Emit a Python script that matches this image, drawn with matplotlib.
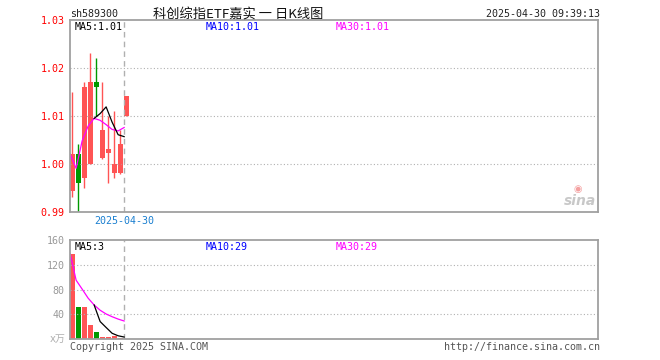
import matplotlib
matplotlib.use("Agg")
import matplotlib.pyplot as plt

# daily candles (index 0..9)
opens = [0.9943, 1.0021, 0.9971, 0.9999, 1.0171, 1.0012, 1.0022, 0.9982, 0.9982, 1.0100]
closes = [1.0021, 0.9961, 1.0161, 1.0171, 1.0161, 1.0071, 1.0031, 1.0000, 1.0042, 1.0142]
highs = [1.0151, 1.0042, 1.0171, 1.0231, 1.0220, 1.0171, 1.0101, 1.0110, 1.0071, 1.0142]
lows = [0.9932, 0.9901, 0.9951, 0.9999, 1.0099, 1.0010, 0.9960, 0.9970, 0.9979, 1.0100]

ma5_idx = [4, 5, 6, 7, 8, 9]
ma5 = [1.0095, 1.0105, 1.0119, 1.0087, 1.0061, 1.0057]
ma30 = [1.0021, 0.9991, 1.0048, 1.0079, 1.0095, 1.0091, 1.0082, 1.0072, 1.0069, 1.0076]

volumes = [138, 52, 52, 22, 11, 4, 4, 5, 2, 0.8]
vol_ma5 = [55.0, 28.2, 18.6, 9.2, 5.2, 3.2]
vol_ma30 = [138, 95, 80.7, 66, 55, 46.5, 40.4, 36, 32.2, 29.1]

price_ticks = [0.99, 1.00, 1.01, 1.02, 1.03]
vol_ticks = [40, 80, 120, 160]

code = "sh589300"
title = "科创综指ETF嘉实 一 日K线图"
stamp = "2025-04-30 09:39:13"
day_label = "2025-04-30"
top_legend = ["MA5:1.01", "MA10:1.01", "MA30:1.01"]
bot_legend = ["MA5:3", "MA10:29", "MA30:29"]

RED = "#ff5454"
GREEN = "#009900"
GRAY = "#a0a0a0"
MONO = "DejaVu Sans Mono"
FS = 7.2

W, H = 660, 360
fig = plt.figure(figsize=(W / 100, H / 100), dpi=100)


def px_axes(x0, y0, x1, y1):
    return fig.add_axes([x0 / W, 1 - y1 / H, (x1 - x0) / W, (y1 - y0) / H])


ax = px_axes(70, 20, 598, 212)
axv = px_axes(70, 240, 598, 339)

n = len(opens)
xlim = (-0.37, 87.6)
shift = -0.35  # MA lines / day marker sit at the left edge of a candle

for a in (ax, axv):
    a.set_xlim(*xlim)
    a.set_xticks([])
    for s in a.spines.values():
        s.set_color(GRAY)
        s.set_linewidth(1.3)
    a.tick_params(axis="y", length=0, pad=4, labelsize=FS)
    a.axvline(n - 1 + shift, color="#b0b0b0", lw=1, ls=(0, (4, 3)))

# price panel
ax.set_ylim(price_ticks[0], price_ticks[-1])
ax.set_yticks(price_ticks)
ax.set_yticklabels([f"{v:.2f}" for v in price_ticks], color="red", family=MONO)
for v in price_ticks[1:-1]:
    ax.axhline(v, color="#b0b0b0", lw=0.8, ls=(0, (1, 2)))

for i in range(n):
    c = RED if closes[i] >= opens[i] else GREEN
    ax.vlines(i, lows[i], highs[i], color=c, lw=1)
    lo, hi = min(opens[i], closes[i]), max(opens[i], closes[i])
    ax.bar(i, max(hi - lo, 0.00015), bottom=lo, width=0.82, color=c, lw=0)

ax.plot([i + shift for i in range(n)], ma30, color="#ff00ff", lw=0.9)
ax.plot([i + shift for i in ma5_idx], ma5, color="black", lw=0.9)

# volume panel
axv.set_ylim(0, 160)
axv.set_yticks(vol_ticks)
axv.set_yticklabels([str(v) for v in vol_ticks], color="#999999", family=MONO)
for v in vol_ticks[:-1]:
    axv.axhline(v, color="#b0b0b0", lw=0.8, ls=(0, (1, 2)))

for i in range(n):
    c = RED if closes[i] >= opens[i] else GREEN
    axv.bar(i, volumes[i], width=0.82, color=c, lw=0)
axv.plot([i + shift for i in range(n)], vol_ma30, color="#ff00ff", lw=0.9)
axv.plot([i + shift for i in ma5_idx], vol_ma5, color="black", lw=0.9)


def ftext(x, y, s, **kw):
    kw.setdefault("fontsize", FS)
    kw.setdefault("family", MONO)
    fig.text(x / W, 1 - y / H, s, va="center", **kw)


ftext(70, 14, code, color="#222222")
ftext(238, 14, title, ha="center", fontsize=9.5,
      family=["Noto Sans CJK SC", "DejaVu Sans"], color="#111111")
ftext(600, 14, stamp, ha="right", color="#222222")

leg_x = [75, 206, 336]
leg_c = ["black", "#0000ff", "#ff00ff"]
for x, s, c in zip(leg_x, top_legend, leg_c):
    ftext(x, 27, s, color=c)
for x, s, c in zip(leg_x, bot_legend, leg_c):
    ftext(x, 247, s, color=c)

ftext(124, 221, day_label, ha="center", color="#1a7fd0")
ftext(66, 339, "x万", ha="right", color="#b0b0b0",
      family=["DejaVu Sans", "Noto Sans CJK SC"])
ftext(70, 347, "Copyright 2025 SINA.COM", color="#555555")
ftext(600, 347, "http://finance.sina.com.cn", ha="right", color="#555555")

# faint sina watermark
ftext(596, 201, "sina", ha="right", fontsize=10, family="DejaVu Sans",
      weight="bold", style="italic", color="#c8c8c8")
fig.text(578 / W, 1 - 189 / H, "◉", fontsize=7, color="#f4a0a0",
         ha="center", va="center", family="DejaVu Sans")

fig.savefig("out.png", dpi=100)
